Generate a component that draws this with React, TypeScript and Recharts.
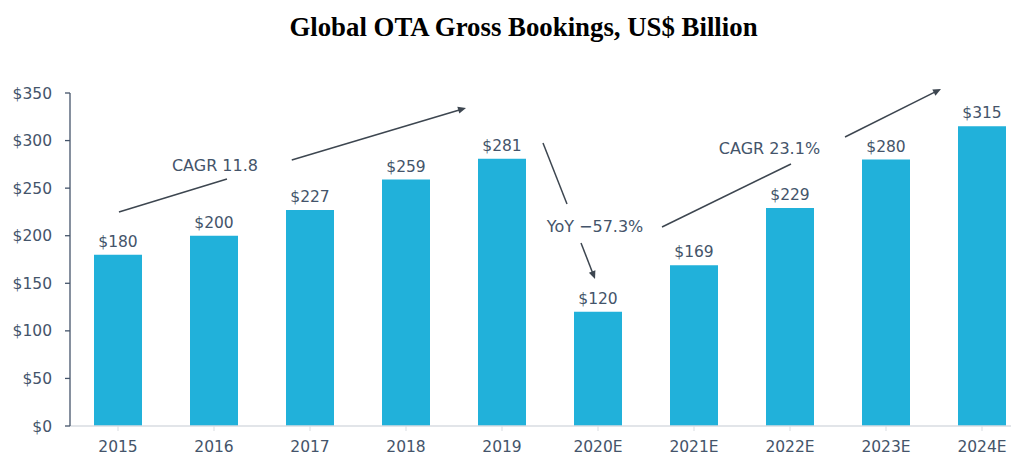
import React from 'react';
import {
  BarChart,
  Bar,
  XAxis,
  YAxis,
  LabelList,
  ReferenceLine,
  ReferenceDot,
} from 'recharts';

const categories = ['2015', '2016', '2017', '2018', '2019', '2020E', '2021E', '2022E', '2023E', '2024E'];
const bookings = [180, 200, 227, 259, 281, 120, 169, 229, 280, 315];
const yTicks = [0, 50, 100, 150, 200, 250, 300, 350];

// Annotation geometry in data units (x: category index space 0..10, y: US$ bn)
const cagr1Lines = [
  { from: [0.51, 225], to: [1.635, 259.6], arrow: false },
  { from: [2.31, 279.6], to: [4.125, 334.3], arrow: true },
];
const yoyLines = [
  { from: [4.927, 297.5], to: [5.177, 233.3], arrow: false },
  { from: [5.323, 192.4], to: [5.469, 154.5], arrow: true },
];
const cagr2Lines = [
  { from: [6.167, 209.2], to: [7.51, 275.4], arrow: false },
  { from: [8.073, 303.8], to: [9.073, 354.2], arrow: true },
];
const annotationTexts = [
  { text: 'CAGR 11.8', x: 1.51, y: 274.3 },
  { text: 'YoY \u221257.3%', x: 5.469, y: 209.2 },
  { text: 'CAGR 23.1%', x: 7.286, y: 291.2 },
];

const data = categories.map((c, i) => ({ year: c, value: bookings[i], slot: i + 0.5 }));

const TEXT = '#44546a';
const FONT = '"DejaVu Sans", sans-serif';

const makeLineShape = (arrow: boolean) => (p: any) => {
  const x1 = Number(p.x1), y1 = Number(p.y1), x2 = Number(p.x2), y2 = Number(p.y2);
  const ang = Math.atan2(y2 - y1, x2 - x1);
  const len = 8, half = 3.5;
  const bx = x2 - len * Math.cos(ang);
  const by = y2 - len * Math.sin(ang);
  const px = -Math.sin(ang), py = Math.cos(ang);
  const pts = `${x2},${y2} ${bx + px * half},${by + py * half} ${bx - px * half},${by - py * half}`;
  return (
    <g>
      <line x1={x1} y1={y1} x2={arrow ? bx + Math.cos(ang) : x2} y2={arrow ? by + Math.sin(ang) : y2} stroke="#3d4650" strokeWidth={1.5} />
      {arrow && <polygon points={pts} fill="#3d4650" />}
    </g>
  );
};

const makeTextShape = (text: string) => (p: any) => (
  <text
    x={p.cx}
    y={p.cy}
    textAnchor="middle"
    dominantBaseline="central"
    fill={TEXT}
    fontSize={16}
    fontFamily={FONT}
  >
    {text}
  </text>
);

const allLines = [...cagr1Lines, ...yoyLines, ...cagr2Lines];

export default function App() {
  return (
    <div style={{ width: 1011, overflow: 'hidden', position: 'relative' }}>
      <div
        style={{
          width: 1031,
          height: 40,
          lineHeight: '38px',
          textAlign: 'center',
          fontFamily: '"Liberation Serif", "Times New Roman", serif',
          fontWeight: 'bold',
          fontSize: 26.8,
          color: '#000',
        }}
      >
        Global OTA Gross Bookings, US$ Billion
      </div>
      <BarChart
        width={1022}
        height={406}
        data={data}
        margin={{ top: 45, right: 0, bottom: 0, left: 0 }}
        barCategoryGap="25%"
      >
        <XAxis
          dataKey="year"
          interval={0}
          height={28}
          tickSize={5}
          tickMargin={10}
          axisLine={{ stroke: '#d9dde2', strokeWidth: 1.5 }}
          tickLine={{ stroke: '#d9dde2', strokeWidth: 1 }}
          tick={{ fill: TEXT, fontSize: 15.5, fontFamily: FONT }}
        />
        <XAxis
          xAxisId="ann"
          dataKey="slot"
          type="number"
          domain={[0, 10]}
          allowDataOverflow
          padding={{ left: 0, right: 0 }}
          hide
        />
        <YAxis
          width={62}
          domain={[0, 350]}
          ticks={yTicks}
          interval={0}
          tickSize={5}
          tickMargin={13}
          axisLine={{ stroke: TEXT, strokeWidth: 1.3 }}
          tickLine={{ stroke: TEXT, strokeWidth: 1.3 }}
          tick={{ fill: TEXT, fontSize: 15.5, fontFamily: FONT }}
          tickFormatter={(v: number) => `$${v}`}
        />
        <Bar dataKey="value" fill="#21b1da" isAnimationActive={false}>
          <LabelList
            dataKey="value"
            position="top"
            offset={8}
            fill={TEXT}
            fontSize={15.5}
            fontFamily={FONT}
            formatter={(v: any) => `$${v}`}
          />
        </Bar>
        {allLines.map((l, i) => (
          <ReferenceLine
            key={`l${i}`}
            xAxisId="ann"
            ifOverflow="visible"
            segment={[
              { x: l.from[0], y: l.from[1] },
              { x: l.to[0], y: l.to[1] },
            ]}
            shape={makeLineShape(l.arrow)}
          />
        ))}
        {annotationTexts.map((t, i) => (
          <ReferenceDot
            key={`t${i}`}
            xAxisId="ann"
            x={t.x}
            y={t.y}
            r={0}
            ifOverflow="visible"
            shape={makeTextShape(t.text)}
          />
        ))}
      </BarChart>
    </div>
  );
}
